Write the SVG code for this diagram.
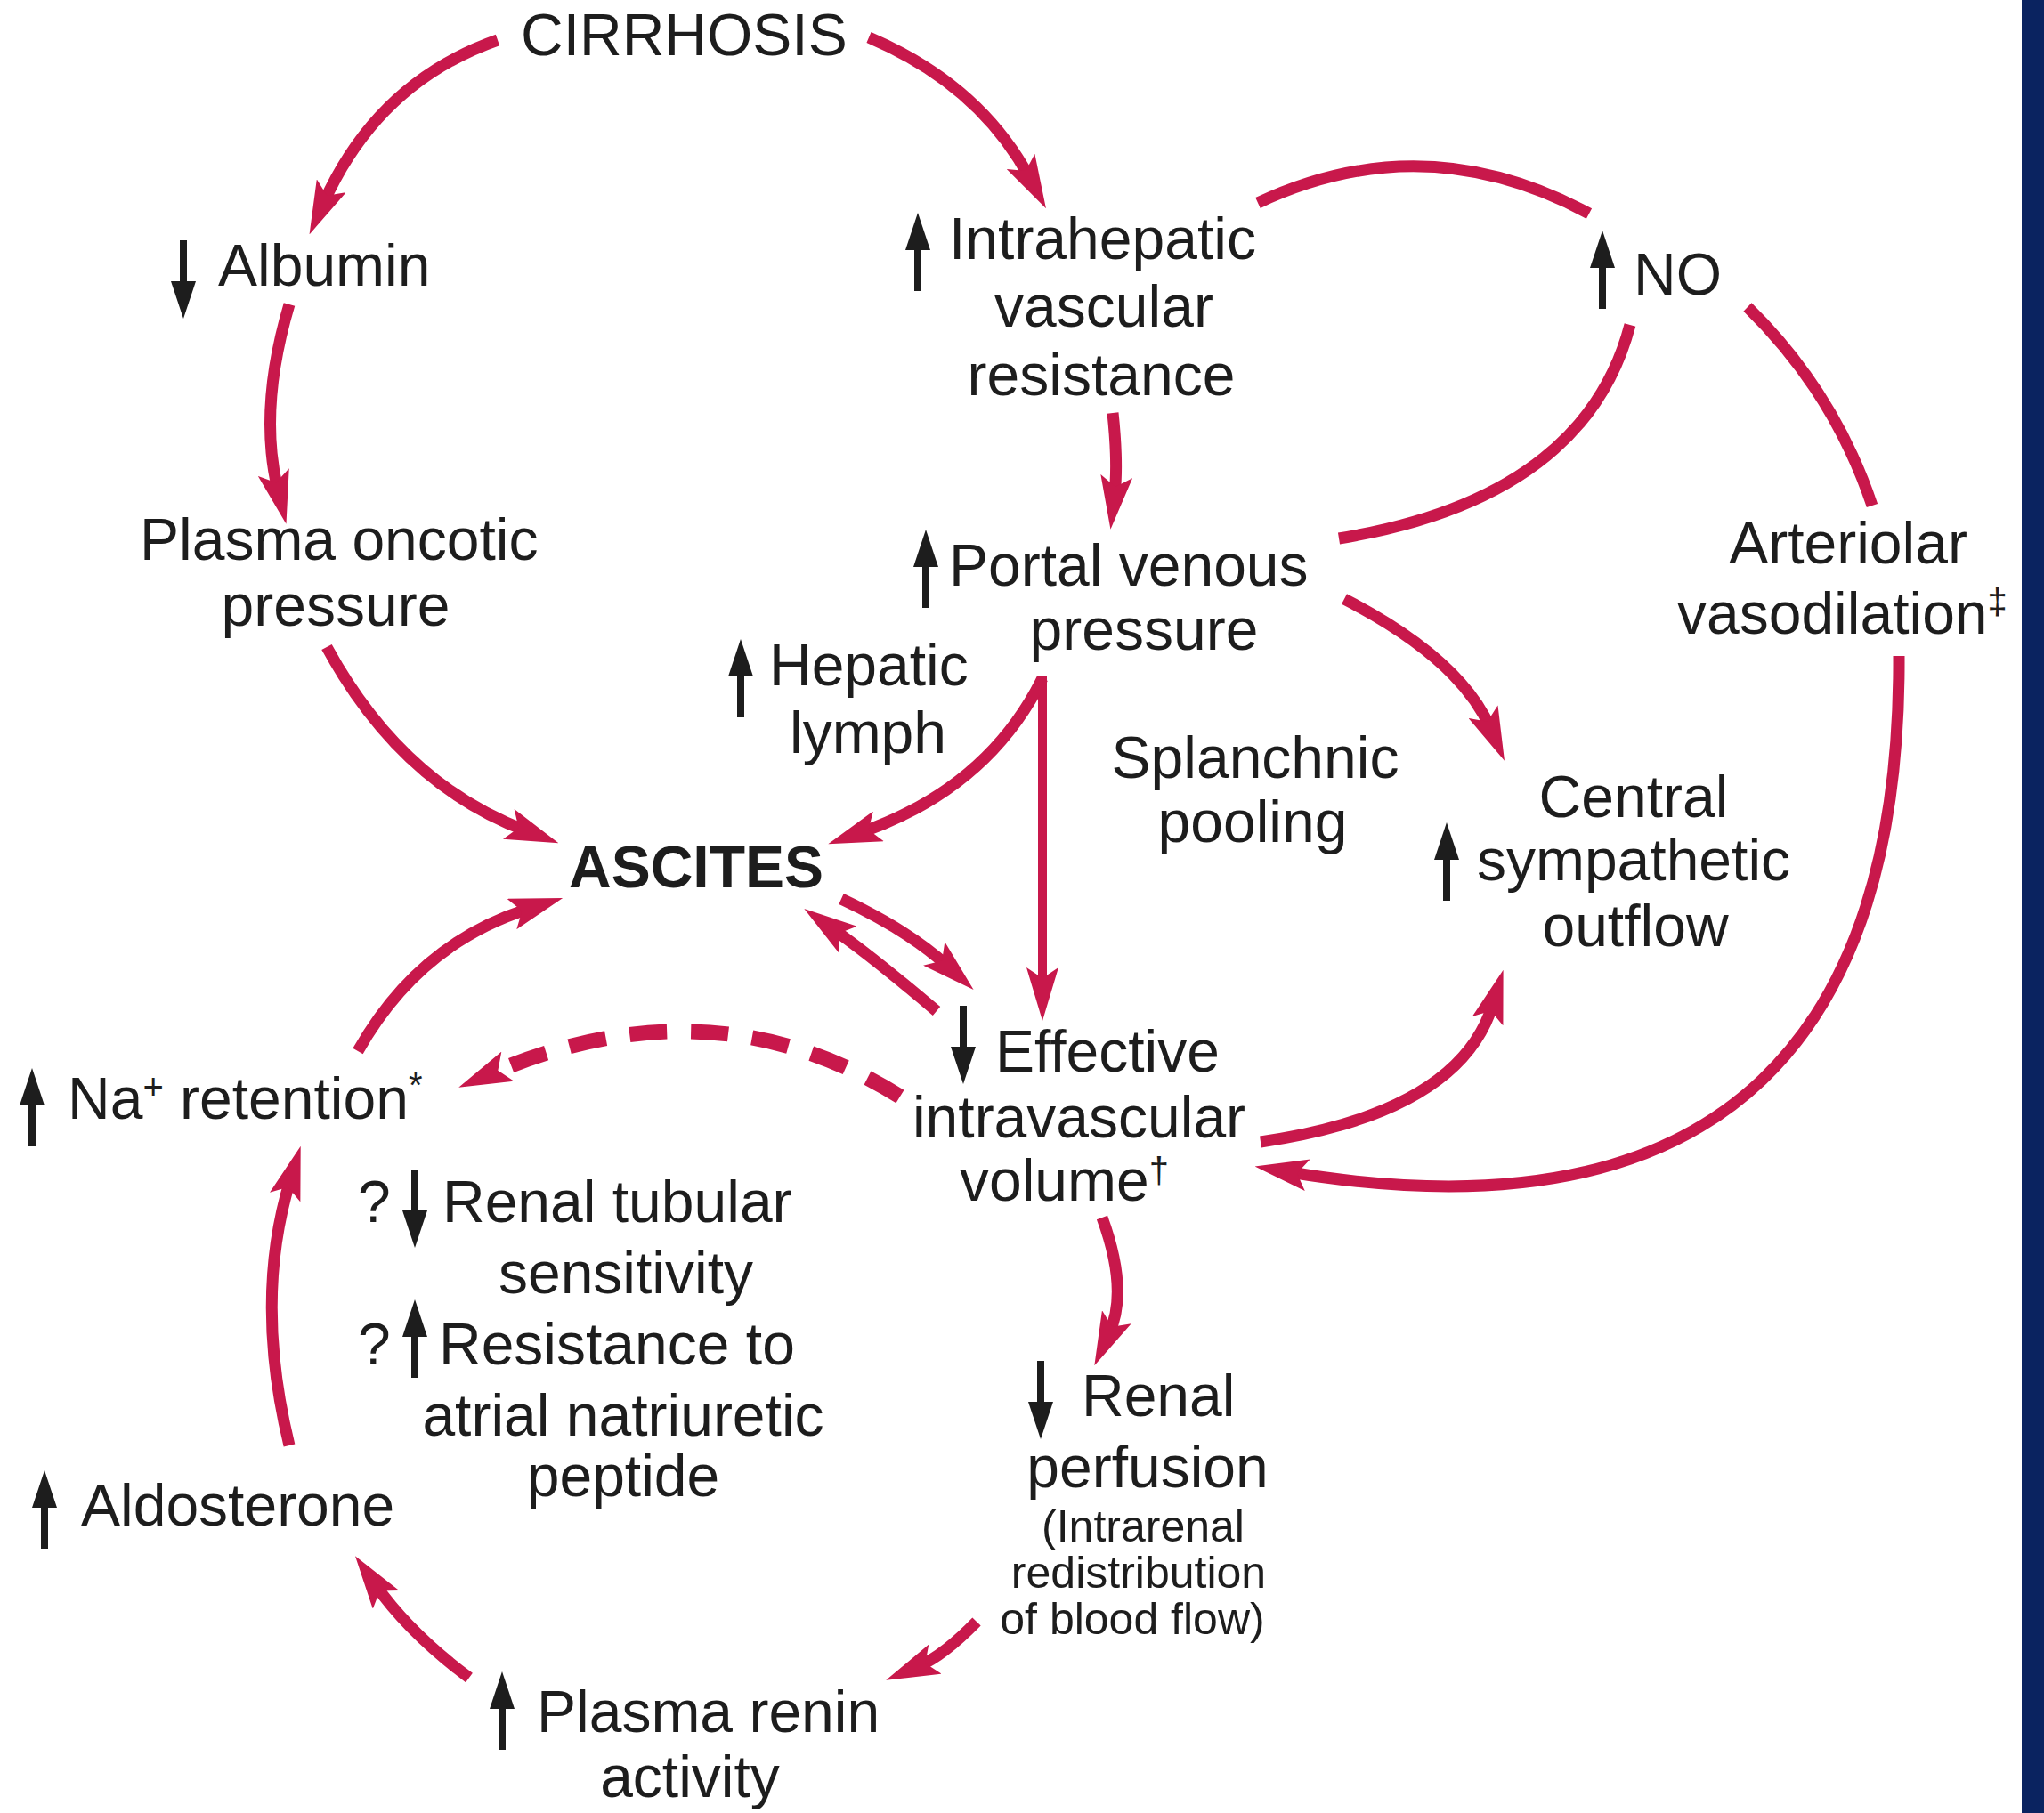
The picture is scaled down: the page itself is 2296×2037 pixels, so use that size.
<svg xmlns="http://www.w3.org/2000/svg" width="2296" height="2037" viewBox="0 0 2296 2037">
<style>
.t{font-family:"Liberation Sans",Arial,sans-serif;font-size:66px;fill:#1d1d1d}
.s{font-size:50px}
.b{font-weight:bold}
.c{text-anchor:middle}
.sup{font-size:40px}
.ar{fill:none;stroke:#c8184b;stroke-width:13;stroke-linecap:butt}
.ln{fill:none;stroke:#c8184b;stroke-width:13}
.da{stroke-dasharray:42 27;stroke-width:17}
.k{fill:#1d1d1d}
</style>
<defs>
<marker id="ah" viewBox="0 -18 60 36" markerWidth="60" markerHeight="36" markerUnits="userSpaceOnUse" refX="20" refY="0" orient="auto">
<path d="M0,-18 L60,0 L0,18 L12,0 Z" fill="#c8184b"/>
</marker>
<path id="up" d="M-4,0 V-46 H-14 L0,-88 L14,-46 H4 V0 Z"/>
<path id="dn" d="M-4,0 V46 H-14 L0,88 L14,46 H4 V0 Z"/>
</defs>
<rect x="0" y="0" width="2296" height="2037" fill="#ffffff"/>
<rect x="2271" y="0" width="25" height="2037" fill="#0a2360"/>

<g id="connectors">
<path class="ar" d="M559 45 Q425 92 364 227" marker-end="url(#ah)"/>
<path class="ar" d="M976 42 Q1100 95 1156 199" marker-end="url(#ah)"/>
<path class="ar" d="M325 342 Q290 460 312 550" marker-end="url(#ah)"/>
<path class="ar" d="M1250 464 Q1256 520 1252 555" marker-end="url(#ah)"/>
<path class="ln" d="M1413 228 Q1600 140 1785 240"/>
<path class="ln" d="M1831 365 Q1780 560 1504 605"/>
<path class="ln" d="M1963 345 Q2060 440 2103 568"/>
<path class="ar" d="M2133 737 C2135 1150 1950 1400 1449 1317" marker-end="url(#ah)"/>
<path class="ar" d="M1510 673 Q1640 740 1674 818" marker-end="url(#ah)"/>
<path class="ar" d="M1416 1283 Q1640 1250 1677 1128" marker-end="url(#ah)"/>
<path class="ar" style="stroke-width:10" d="M1171 760 L1171 1107" marker-end="url(#ah)"/>
<path class="ar" d="M1171 762 Q1110 885 968 935" marker-end="url(#ah)"/>
<path class="ar" d="M367 727 Q450 880 590 933" marker-end="url(#ah)"/>
<path class="ar" d="M945 1010 Q1020 1045 1064 1085" marker-end="url(#ah)"/>
<path class="ar" d="M1052 1136 Q980 1075 936 1044" marker-end="url(#ah)"/>
<path class="ar" d="M402 1181 Q470 1060 594 1021" marker-end="url(#ah)"/>
<path class="ar da" d="M1011 1232 Q800 1100 552 1206" marker-end="url(#ah)"/>
<path class="ar" d="M325 1624 Q285 1460 326 1326" marker-end="url(#ah)"/>
<path class="ar" d="M527 1885 Q460 1835 422 1781" marker-end="url(#ah)"/>
<path class="ar" d="M1238 1368 Q1268 1450 1246 1498" marker-end="url(#ah)"/>
<path class="ar" d="M1097 1822 Q1060 1860 1032 1872" marker-end="url(#ah)"/>
</g>

<g id="cirrhosis"><text class="t" x="585" y="62">CIRRHOSIS</text></g>
<g id="albumin"><use href="#dn" class="k" x="206" y="270"/><text class="t" x="245" y="321">Albumin</text></g>
<g id="plasma-oncotic"><text class="t" x="157" y="629">Plasma oncotic</text><text class="t c" x="377" y="703">pressure</text></g>
<g id="intrahepatic"><use href="#up" class="k" x="1031" y="327"/><text class="t" x="1066" y="291">Intrahepatic</text><text class="t c" x="1240" y="367">vascular</text><text class="t c" x="1237" y="444">resistance</text></g>
<g id="no"><use href="#up" class="k" x="1800" y="347"/><text class="t" x="1835" y="331">NO</text></g>
<g id="portal"><use href="#up" class="k" x="1040" y="683"/><text class="t" x="1066" y="658">Portal venous</text><text class="t c" x="1285" y="730">pressure</text></g>
<g id="arteriolar"><text class="t c" x="2076" y="633">Arteriolar</text><text class="t" x="1884" y="712">vasodilation<tspan class="sup" dy="-22">‡</tspan></text></g>
<g id="hepatic-lymph"><use href="#up" class="k" x="832" y="806"/><text class="t" x="864" y="770">Hepatic</text><text class="t c" x="975" y="846">lymph</text></g>
<g id="ascites"><text class="t b" x="639" y="997">ASCITES</text></g>
<g id="splanchnic"><text class="t c" x="1410" y="874">Splanchnic</text><text class="t c" x="1407" y="946">pooling</text></g>
<g id="central"><use href="#up" class="k" x="1625" y="1012"/><text class="t c" x="1835" y="918">Central</text><text class="t c" x="1835" y="989">sympathetic</text><text class="t c" x="1837" y="1063">outflow</text></g>
<g id="effective"><use href="#dn" class="k" x="1082" y="1130"/><text class="t" x="1118" y="1204">Effective</text><text class="t c" x="1212" y="1278">intravascular</text><text class="t" x="1078" y="1349">volume<tspan class="sup" dy="-20">†</tspan></text></g>
<g id="na-retention"><use href="#up" class="k" x="36" y="1288"/><text class="t" x="76" y="1257">Na<tspan class="sup" dy="-22">+</tspan><tspan dy="22"> retention</tspan><tspan class="sup" dy="-24">*</tspan></text></g>
<g id="renal-tubular"><text class="t" x="402" y="1373">?</text><use href="#dn" class="k" x="466" y="1314"/><text class="t" x="497" y="1373">Renal tubular</text><text class="t c" x="703" y="1453">sensitivity</text></g>
<g id="anp"><text class="t" x="402" y="1533">?</text><use href="#up" class="k" x="466" y="1548"/><text class="t" x="493" y="1533">Resistance to</text><text class="t c" x="700" y="1613">atrial natriuretic</text><text class="t c" x="700" y="1681">peptide</text></g>
<g id="aldosterone"><use href="#up" class="k" x="50" y="1740"/><text class="t" x="91" y="1714">Aldosterone</text></g>
<g id="renal-perfusion"><use href="#dn" class="k" x="1169" y="1529"/><text class="t" x="1215" y="1591">Renal</text><text class="t c" x="1289" y="1671">perfusion</text><text class="t s c" x="1284" y="1732">(Intrarenal</text><text class="t s c" x="1279" y="1784">redistribution</text><text class="t s c" x="1272" y="1836">of blood flow)</text></g>
<g id="plasma-renin"><use href="#up" class="k" x="564" y="1966"/><text class="t" x="603" y="1946">Plasma renin</text><text class="t c" x="775" y="2019">activity</text></g>
</svg>
